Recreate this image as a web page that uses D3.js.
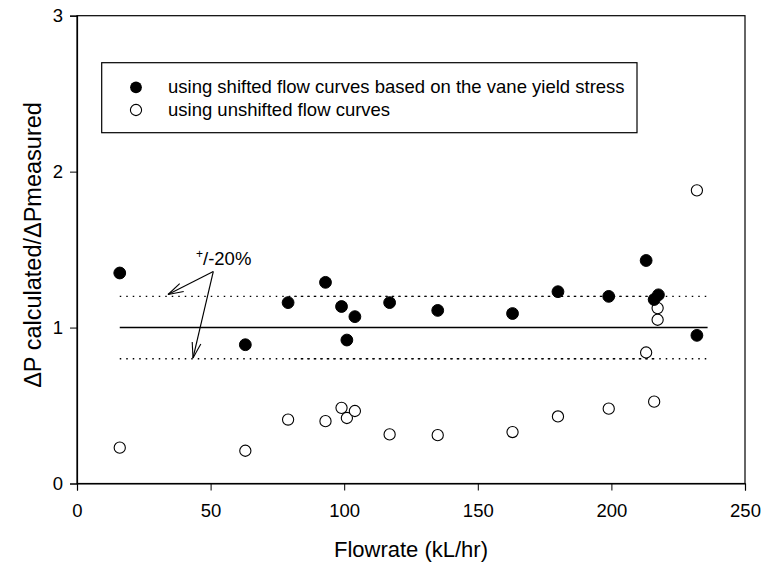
<!DOCTYPE html>
<html><head><meta charset="utf-8">
<script src="https://cdn.jsdelivr.net/npm/d3@7"></script>
<style>
body{margin:0;background:#fff;}
text{font-family:"Liberation Sans",Arial,sans-serif;fill:#000;}
</style></head>
<body>
<svg id="c" width="762" height="564"></svg>
<script>
// Data
const xTicks = [0, 50, 100, 150, 200, 250];
const yTicks = [0, 1, 2, 3];
const shiftedX = [16, 63, 79, 93, 99, 101, 104, 117, 135, 163, 180, 199, 213, 216, 217.6, 232];
const shiftedY = [1.35, 0.89, 1.16, 1.29, 1.135, 0.92, 1.07, 1.16, 1.11, 1.09, 1.23, 1.20, 1.43, 1.18, 1.21, 0.95];
const unshiftedX = [16, 63, 79, 93, 99, 101, 104, 117, 135, 163, 180, 199, 213, 216, 217.3, 217.3, 232];
const unshiftedY = [0.23, 0.21, 0.41, 0.40, 0.485, 0.42, 0.465, 0.315, 0.31, 0.33, 0.43, 0.48, 0.84, 0.525, 1.125, 1.05, 1.88];
const refLineX = [16, 236];
const refLevels = [1.0];
const bandLevels = [1.2, 0.8];
const bandDenseX = [80, 216];
const legendLabels = ["using shifted flow curves based on the vane yield stress", "using unshifted flow curves"];
const xTitle = "Flowrate (kL/hr)";
const yTitle = "\u0394P calculated/\u0394Pmeasured";

const svg = d3.select("#c");
const x = d3.scaleLinear().domain([0, 250]).range([77, 745]);
const y = d3.scaleLinear().domain([0, 3]).range([483.5, 15.7]);

// frame
svg.append("rect").attr("x", x(0)).attr("y", y(3)).attr("width", x(250) - x(0)).attr("height", y(0) - y(3))
  .attr("fill", "none").attr("stroke", "#000").attr("stroke-width", 1.2);

const xa = svg.append("g").attr("transform", `translate(0,${y(0)})`)
  .call(d3.axisBottom(x).tickValues(xTicks).tickSize(7).tickPadding(13).tickFormat(d3.format("d")));
const ya = svg.append("g").attr("transform", `translate(${x(0)},0)`)
  .call(d3.axisLeft(y).tickValues(yTicks).tickSize(7).tickPadding(7).tickFormat(d3.format("d")));
[xa, ya].forEach(g => {
  g.select(".domain").attr("stroke-width", 1.2);
  g.selectAll(".tick line").attr("stroke-width", 1);
  g.selectAll("text").attr("font-size", 18.5).attr("font-family", "Liberation Sans, Arial, sans-serif");
});

// reference lines
svg.selectAll("line.ref").data(refLevels).enter().append("line")
  .attr("x1", x(refLineX[0])).attr("x2", x(refLineX[1]))
  .attr("y1", d => y(d)).attr("y2", d => y(d)).attr("stroke", "#000").attr("stroke-width", 1.6);
svg.selectAll("line.band").data(bandLevels).enter().append("line")
  .attr("x1", x(refLineX[0])).attr("x2", x(refLineX[1]))
  .attr("y1", d => y(d)).attr("y2", d => y(d)).attr("stroke", "#000").attr("stroke-width", 1.3)
  .attr("stroke-dasharray", "1.5,5");
svg.selectAll("line.band2").data(bandLevels).enter().append("line")
  .attr("x1", x(bandDenseX[0])).attr("x2", x(bandDenseX[1]))
  .attr("y1", d => y(d)).attr("y2", d => y(d)).attr("stroke", "#000").attr("stroke-width", 1.3)
  .attr("stroke-dasharray", "1.5,5").attr("stroke-dashoffset", 3);

// points
const shifted = shiftedX.map((v, i) => ({x: v, y: shiftedY[i]}));
const unshifted = unshiftedX.map((v, i) => ({x: v, y: unshiftedY[i]}));
svg.append("g").selectAll("circle").data(unshifted).enter().append("circle")
  .attr("cx", d => x(d.x)).attr("cy", d => y(d.y)).attr("r", 5.6)
  .attr("fill", "#fff").attr("stroke", "#000").attr("stroke-width", 1.1);
svg.append("g").selectAll("circle").data(shifted).enter().append("circle")
  .attr("cx", d => x(d.x)).attr("cy", d => y(d.y)).attr("r", 5.9)
  .attr("fill", "#000").attr("stroke", "#000");

// annotation
const ann = svg.append("g");
const at = ann.append("text").attr("x", 196).attr("y", 265).attr("font-size", 18.5);
at.append("tspan").attr("font-size", 12).attr("dy", -7).text("+");
at.append("tspan").attr("dy", 7).text("/-20%");
const start = [213.3, 271.5];
const tips = [[168, 294.5], [193, 358]];
function arrow(s, t) {
  ann.append("line").attr("x1", s[0]).attr("y1", s[1]).attr("x2", t[0]).attr("y2", t[1]).attr("stroke", "#000").attr("stroke-width", 1.1);
  const ang = Math.atan2(s[1] - t[1], s[0] - t[0]);
  const L = 16, a = 0.28;
  [ang - a, ang + a].forEach(b => {
    ann.append("line").attr("x1", t[0]).attr("y1", t[1])
      .attr("x2", t[0] + L * Math.cos(b)).attr("y2", t[1] + L * Math.sin(b))
      .attr("stroke", "#000").attr("stroke-width", 1.1);
  });
}
tips.forEach(t => arrow(start, t));

// legend
const lg = svg.append("g");
lg.append("rect").attr("x", 101.7).attr("y", 62.7).attr("width", 637 - 101.7).attr("height", 132.7 - 62.7)
  .attr("fill", "#fff").attr("stroke", "#000").attr("stroke-width", 1.2);
lg.append("circle").attr("cx", 136).attr("cy", 87.3).attr("r", 5.9).attr("fill", "#000");
lg.append("circle").attr("cx", 136).attr("cy", 110).attr("r", 5.6).attr("fill", "#fff").attr("stroke", "#000").attr("stroke-width", 1.1);
lg.selectAll("text").data(legendLabels).enter().append("text")
  .attr("x", 168).attr("y", (d, i) => 93 + i * 22.7).attr("font-size", 18.5).text(d => d);

// titles
svg.append("text").attr("x", 411).attr("y", 557).attr("text-anchor", "middle").attr("font-size", 22).text(xTitle);
svg.append("text").attr("transform", "translate(41,245) rotate(-90)").attr("text-anchor", "middle").attr("font-size", 23.5).text(yTitle);
</script>
</body></html>
